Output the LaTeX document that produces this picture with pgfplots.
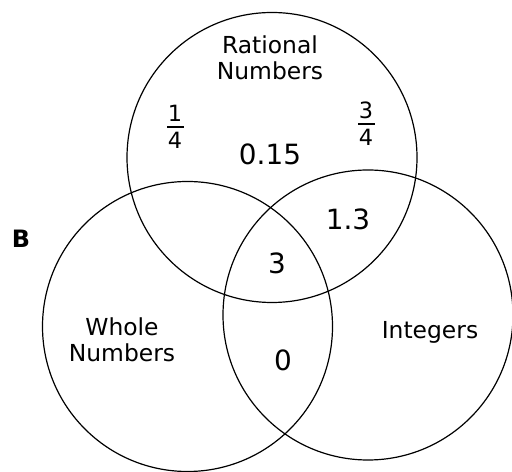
\documentclass[border=0pt]{standalone}
\usepackage{pgfplots}
\pgfplotsset{compat=1.18}
\usepackage{fontspec}
\setmainfont{DejaVu Sans}
\newcommand{\lab}{\fontsize{23.5}{26}\selectfont}
\newcommand{\num}{\fontsize{28}{32}\selectfont}
\newcommand{\fr}{\fontsize{22.5}{26}\selectfont}
\begin{document}
\begin{tikzpicture}
\begin{axis}[
  scale only axis, width=512bp, height=472bp,
  xmin=0, xmax=512, ymin=0, ymax=472,
  hide axis, clip=true,
]
\addplot[draw=none] coordinates {(0,0) (512,472)};
% circles: centers (x,y), radius
\draw[line width=1.2bp] (axis cs:272,314.5) circle[radius=145];
\draw[line width=1.2bp] (axis cs:187.5,145.5) circle[radius=145];
\draw[line width=1.2bp] (axis cs:368,157) circle[radius=145];
\node[align=center, font=\lab] at (axis cs:270,414) {Rational\\Numbers};
\node[align=center, font=\lab] at (axis cs:122,132) {Whole\\Numbers};
\node[font=\lab] at (axis cs:430,140) {Integers};
\node[font=\num] at (axis cs:270,318) {0.15};
\node[font=\num] at (axis cs:348,253) {1.3};
\node[font=\num] at (axis cs:277,209) {3};
\node[font=\num] at (axis cs:283,112) {0};
\node[font=\fontsize{24}{28}\selectfont\bfseries] at (axis cs:21,233) {B};
% fraction 1/4
\node[font=\fr, inner sep=0pt, anchor=south] at (axis cs:175,350) {1};
\draw[line width=1.6bp] (axis cs:167,345) -- (axis cs:184,345);
\node[font=\fr, inner sep=0pt, anchor=north] at (axis cs:175,340) {4};
% fraction 3/4
\node[font=\fr, inner sep=0pt, anchor=south] at (axis cs:366,353) {3};
\draw[line width=1.6bp] (axis cs:358,348) -- (axis cs:375,348);
\node[font=\fr, inner sep=0pt, anchor=north] at (axis cs:366,343) {4};
\end{axis}
\end{tikzpicture}
\end{document}
